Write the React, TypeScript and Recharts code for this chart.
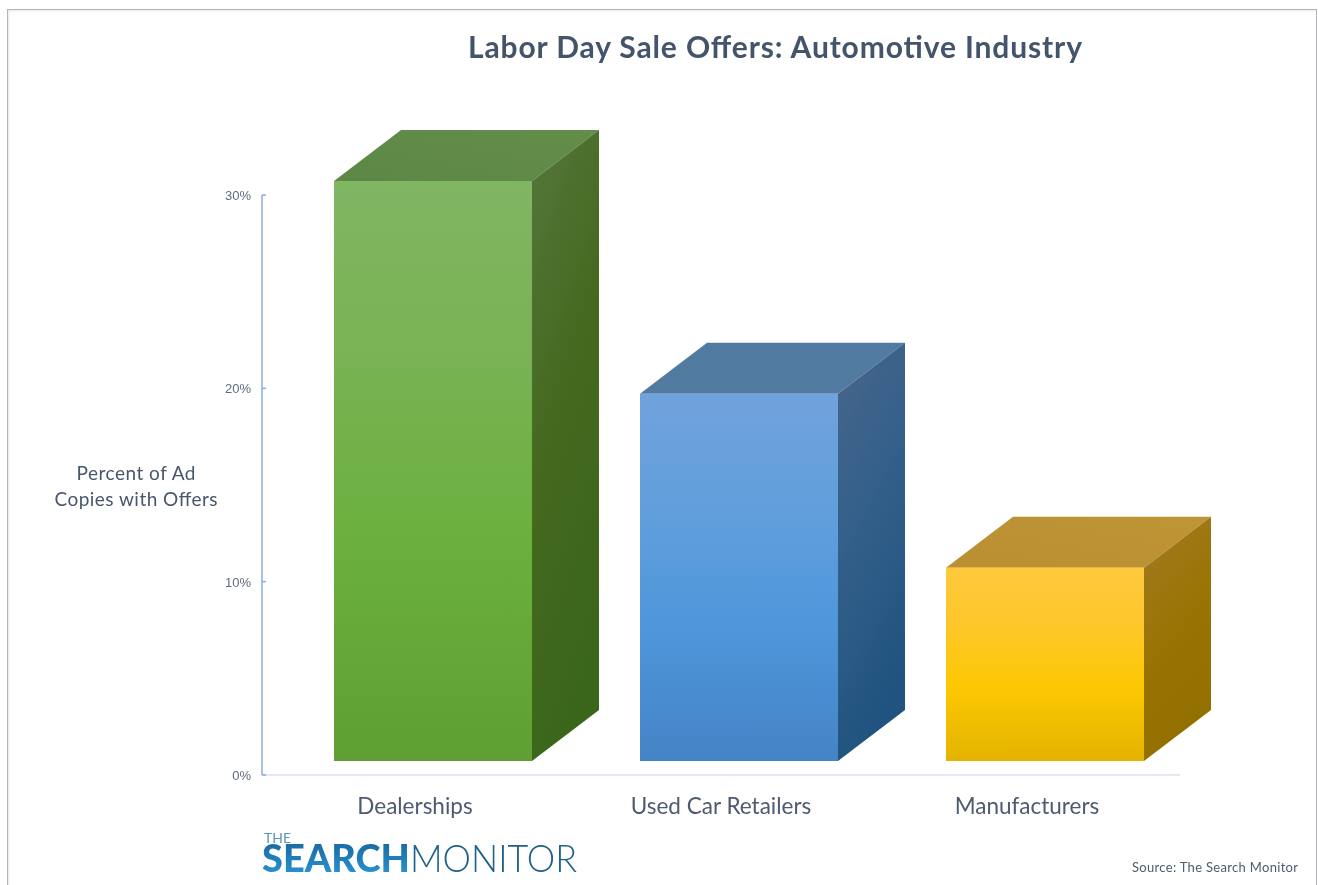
// App.tsx
import React from 'react';
import { BarChart, Bar, XAxis, YAxis, Cell } from 'recharts';

const categories = ['Dealerships', 'Used Car Retailers', 'Manufacturers'];
const percentValues = [30, 19, 10];
const yTicks = [0, 10, 20, 30];

const palette = [
  { id: 'green', front: ['#80b562', '#79b354', '#6bb03e', '#5f9f33'], side: ['#55763c', '#45691f', '#3a661c'], top: ['#5d8746', '#648d4a'] },
  { id: 'blue', front: ['#70a2dc', '#629fdc', '#4f97db', '#4484c6'], side: ['#48668a', '#325f8a', '#20537f'], top: ['#527a9f', '#517ba3'] },
  { id: 'gold', front: ['#fec93c', '#fdc72a', '#fdc802', '#e3b300'], side: ['#a37b25', '#9a7405', '#927000'], top: ['#b98f32', '#bf9536'] },
];

const data = categories.map((name, i) => ({ name, percent: percentValues[i] }));

const DEPTH_X = 67;
const DEPTH_Y = 51;
const SHIFT_X = 18;
const SHIFT_Y = 14;

const Box3D = (props: any) => {
  const { x, y, width, height, index } = props;
  const id = palette[index].id;
  const l = x + SHIFT_X;
  const r = l + width;
  const t = y - SHIFT_Y;
  const b = t + height;
  return (
    <g>
      <polygon points={`${l},${t} ${l + DEPTH_X},${t - DEPTH_Y} ${r + DEPTH_X},${t - DEPTH_Y} ${r},${t}`} fill={`url(#${id}-top)`} />
      <polygon points={`${r},${t} ${r + DEPTH_X},${t - DEPTH_Y} ${r + DEPTH_X},${b - DEPTH_Y} ${r},${b}`} fill={`url(#${id}-side)`} />
      <rect x={l} y={t} width={width} height={height} fill={`url(#${id}-front)`} />
    </g>
  );
};

const YTick = ({ x, y, payload }: any) => (
  <g>
    <line x1={262} x2={266} y1={y} y2={y} stroke="#8eaadb" strokeWidth={1.5} />
    <text x={251} y={y + 5} textAnchor="end" fontSize={13} fontFamily="Liberation Sans" fill="#5f6b80">
      {payload.value}%
    </text>
  </g>
);

const App = () => (
  <div style={{ position: 'absolute', left: 0, top: 0, width: 1318, height: 885, background: '#fff', overflow: 'hidden', filter: 'blur(0.5px)' }}>
    <div style={{ position: 'absolute', left: 7, top: 9, width: 1308, height: 900, border: '1.5px solid #b4b4b8', boxShadow: 'inset 1px 1px 2px #e8e8f0' }} />
    <svg width={1318} height={885} style={{ position: 'absolute', left: 0, top: 0 }}>
      <defs>
        <linearGradient id="logoBlue" x1="0" y1="0" x2="0" y2="1">
          <stop offset="0" stopColor="#155f96" />
          <stop offset="1" stopColor="#2a9ad8" />
        </linearGradient>
      </defs>
      <text x={775} y={58} textAnchor="middle" fontFamily="Lato" fontWeight={700} fontSize={30} fill="#44546a" textLength={614}>
        Labor Day Sale Offers: Automotive Industry
      </text>
      <text x={136} y={480} textAnchor="middle" fontFamily="Lato" fontSize={19} fill="#4a566c" textLength={119}>Percent of Ad</text>
      <text x={136} y={506} textAnchor="middle" fontFamily="Lato" fontSize={19} fill="#4a566c" textLength={163}>Copies with Offers</text>
      <text x={264} y={843} fontFamily="Lato" fontSize={14} fill="#5d94bb" textLength={27}>THE</text>
      <text x={262} y={872} fontFamily="Lato" fontWeight={900} fontSize={38} fill="url(#logoBlue)" textLength={148} lengthAdjust="spacingAndGlyphs">SEARCH</text>
      <text x={410} y={872} fontFamily="Lato" fontWeight={300} fontSize={38} fill="#1f6188" textLength={167} lengthAdjust="spacingAndGlyphs">MONITOR</text>
      <text x={1132} y={872} fontFamily="Lato" fontSize={13} fill="#4f5b70" textLength={166}>Source: The Search Monitor</text>
    </svg>
    <div style={{ position: 'absolute', left: 0, top: 0 }}>
      <BarChart width={1318} height={885} data={data} margin={{ top: 195, right: 138, left: 200, bottom: 60 }} barSize={198}>
        <defs>
          {palette.map(p => (
            <React.Fragment key={p.id}>
              <linearGradient id={`${p.id}-front`} x1="0" y1="0" x2="0" y2="1">
                <stop offset="0" stopColor={p.front[0]} />
                <stop offset="0.3" stopColor={p.front[1]} />
                <stop offset="0.62" stopColor={p.front[2]} />
                <stop offset="1" stopColor={p.front[3]} />
              </linearGradient>
              <linearGradient id={`${p.id}-side`} x1="0" y1="0" x2="0.3" y2="1">
                <stop offset="0" stopColor={p.side[0]} />
                <stop offset="0.5" stopColor={p.side[1]} />
                <stop offset="1" stopColor={p.side[2]} />
              </linearGradient>
              <linearGradient id={`${p.id}-top`} x1="0" y1="1" x2="1" y2="0">
                <stop offset="0" stopColor={p.top[0]} />
                <stop offset="1" stopColor={p.top[1]} />
              </linearGradient>
            </React.Fragment>
          ))}
        </defs>
        <XAxis
          dataKey="name"
          height={50}
          stroke="#e4e9f2"
          strokeWidth={2}
          tickLine={false}
          tickMargin={17}
          tick={{ fontFamily: 'Lato', fontSize: 22.5, fill: '#4d5a70' }}
          interval={0}
        />
        <YAxis
          type="number"
          domain={[0, 30]}
          ticks={yTicks}
          width={62}
          stroke="#8eaadb"
          strokeWidth={1.5}
          tickLine={false}
          tick={<YTick />}
        />
        <Bar dataKey="percent" shape={<Box3D />} isAnimationActive={false}>
          {data.map(d => (
            <Cell key={d.name} />
          ))}
        </Bar>
      </BarChart>
    </div>
  </div>
);

export default App;
